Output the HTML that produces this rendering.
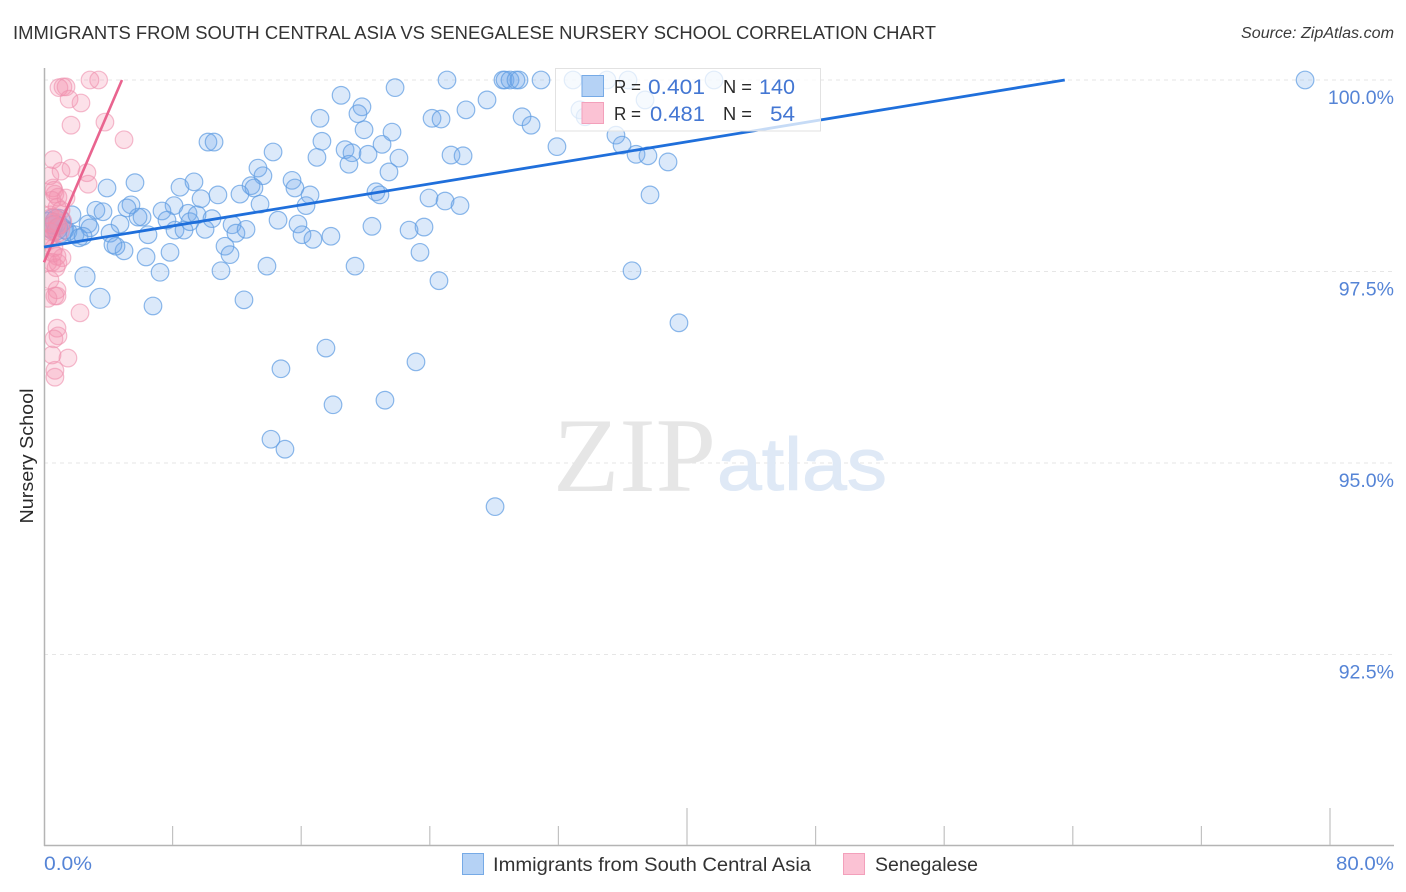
<!DOCTYPE html>
<html lang="en">
<head>
<meta charset="utf-8">
<title>Immigrants from South Central Asia vs Senegalese Nursery School Correlation Chart</title>
<style>
html,body{margin:0;padding:0;background:#fff;width:1406px;height:892px;overflow:hidden}
svg{display:block;font-family:"Liberation Sans",sans-serif}
</style>
</head>
<body>
<svg id="chart" xmlns="http://www.w3.org/2000/svg" width="1406" height="892" viewBox="0 0 1406 892">
  <text x="13" y="39" font-size="18" fill="#333" textLength="923" lengthAdjust="spacingAndGlyphs">IMMIGRANTS FROM SOUTH CENTRAL ASIA VS SENEGALESE NURSERY SCHOOL CORRELATION CHART</text>
  <text x="1241" y="38" font-size="15.5" font-style="italic" fill="#3a3a3a" textLength="153" lengthAdjust="spacingAndGlyphs">Source: ZipAtlas.com</text>
  <g id="grid"></g>
  <g>
    <text x="553" y="491" font-family="'Liberation Serif',serif" font-size="106" fill="#e6e6e6" textLength="163" lengthAdjust="spacingAndGlyphs">ZIP</text>
    <text x="717" y="490" font-size="74" fill="#dfe9f6" stroke="#dfe9f6" stroke-width="1" textLength="170" lengthAdjust="spacingAndGlyphs">atlas</text>
  </g>
  <g id="axes"></g>
  <defs><clipPath id="plot-clip"><rect x="45" y="60" width="1349" height="786"></rect></clipPath></defs>
  <g id="blue-points" clip-path="url(#plot-clip)"></g>
  <g id="pink-points" clip-path="url(#plot-clip)"></g>
  <g id="trends"></g>
  <text transform="translate(33,456) rotate(-90)" font-size="18" fill="#2a2a2a" text-anchor="middle" textLength="135" lengthAdjust="spacingAndGlyphs">Nursery School</text>
  <g>
    <rect x="555.5" y="68.5" width="265" height="62.5" fill="#fff" fill-opacity="0.75" stroke="#e2e2e2"></rect>
    <rect x="582" y="75.5" width="21.5" height="21" fill="#b5d2f5" stroke="#76aae6"></rect>
    <rect x="582" y="102.5" width="21.5" height="21" fill="#fbc2d4" stroke="#f3a0bb"></rect>
    <text x="614" y="93" font-size="18" fill="#2a2a2a" textLength="27" lengthAdjust="spacingAndGlyphs">R =</text>
    <text x="648" y="94" font-size="21" fill="#4477d3" textLength="57" lengthAdjust="spacingAndGlyphs">0.401</text>
    <text x="723" y="93" font-size="18" fill="#2a2a2a" textLength="29" lengthAdjust="spacingAndGlyphs">N =</text>
    <text x="759" y="94" font-size="21" fill="#4477d3" textLength="36" lengthAdjust="spacingAndGlyphs">140</text>
    <text x="614" y="120" font-size="18" fill="#2a2a2a" textLength="27" lengthAdjust="spacingAndGlyphs">R =</text>
    <text x="650" y="121" font-size="21" fill="#4477d3" textLength="55" lengthAdjust="spacingAndGlyphs">0.481</text>
    <text x="723" y="120" font-size="18" fill="#2a2a2a" textLength="29" lengthAdjust="spacingAndGlyphs">N =</text>
    <text x="770" y="121" font-size="21" fill="#4477d3" textLength="25" lengthAdjust="spacingAndGlyphs">54</text>
  </g>
  <g>
    <rect x="462.5" y="853.5" width="21" height="21" fill="#b5d2f5" stroke="#76aae6"></rect>
    <text x="493" y="871" font-size="19" fill="#333" textLength="318" lengthAdjust="spacingAndGlyphs">Immigrants from South Central Asia</text>
    <rect x="843.5" y="853.5" width="21" height="21" fill="#fbc2d4" stroke="#f3a0bb"></rect>
    <text x="875" y="871" font-size="19" fill="#333" textLength="103" lengthAdjust="spacingAndGlyphs">Senegalese</text>
  </g>
</svg>
<script>
var yTickValues = [100, 97.5, 95, 92.5];
var yTickLabels = ["100.0%", "97.5%", "95.0%", "92.5%"];
var xEdgeLabels = ["0.0%", "80.0%"];
var xTickValues = [0, 8, 16, 24, 32, 40, 48, 56, 64, 72, 80];

var blueX = [25.07,28.55,28.68,28.99,29.36,29.55,30.92,32.91,35.02,36.33,41.68,78.45,
18.48,21.84,17.17,19.78,19.53,27.56,26.25,24.14,24.70,29.74,30.30,33.34,33.66,37.39,
19.91,21.65,17.29,10.20,10.58,14.25,16.98,18.73,19.16,20.16,18.97,21.03,22.08,21.46,
25.32,26.07,31.91,35.58,35.96,36.83,37.57,38.82,13.31,13.62,15.43,15.61,16.55,16.30,
12.88,13.06,12.19,10.82,8.46,9.33,9.77,5.66,3.92,5.41,5.16,3.23,3.67,1.74,2.74,2.86,
13.44,20.65,20.90,23.95,24.95,25.88,37.70,8.09,7.34,6.10,5.85,4.73,4.11,6.47,7.65,
8.15,8.71,8.96,9.08,9.52,10.02,10.45,11.70,11.94,12.57,14.56,15.80,16.05,16.73,17.85,
20.40,22.71,23.64,23.39,11.26,11.57,7.84,6.35,4.98,4.48,4.29,13.87,19.35,11.01,7.22,
2.55,3.48,6.78,12.44,24.57,36.58,39.50,17.54,23.14,14.74,17.98,21.21,14.12,14.99,28.06,
0.37,0.62,0.87,1.00,0.68,1.31,1.49,1.93,2.18,2.43];
var blueY = [100,100,100,100,100,100,100,100,100,100,100,100,
99.80,99.90,99.50,99.65,99.56,99.74,99.61,99.50,99.49,99.52,99.41,99.61,99.52,99.74,
99.35,99.32,99.20,99.19,99.19,99.06,98.99,99.09,99.05,99.03,98.90,99.16,98.98,98.80,
99.02,99.01,99.13,99.28,99.15,99.03,99.01,98.93,98.85,98.75,98.69,98.59,98.50,98.36,
98.62,98.59,98.51,98.50,98.60,98.67,98.45,98.66,98.59,98.37,98.33,98.30,98.28,98.24,98.12,98.07,
98.38,98.54,98.50,98.46,98.42,98.36,98.50,98.36,98.29,98.21,98.21,98.12,98.00,97.98,98.17,
98.04,98.04,98.26,98.15,98.24,98.05,98.19,98.11,98.00,98.05,98.17,98.12,97.98,97.92,97.96,
98.09,98.04,98.08,97.75,97.83,97.72,97.75,97.69,97.77,97.83,97.85,97.57,97.57,97.51,97.49,
97.43,97.15,97.05,97.13,97.38,97.51,96.83,96.50,96.32,96.23,95.76,95.82,95.31,95.18,94.43,
98.11,98.15,98.15,98.04,98.07,98.04,98.02,97.98,97.94,97.96];

var pinkX = [2.86,3.40,0.93,1.18,1.37,1.56,2.30,1.68,3.79,4.98,0.56,1.06,1.68,2.67,2.74,0.37,0.56,0.62,
0.68,0.87,1.37,0.50,0.81,1.06,0.37,0.50,0.68,0.87,0.37,0.62,1.00,0.25,0.37,0.62,0.81,0.50,0.25,0.87,
0.37,0.81,0.81,0.68,0.25,2.24,0.81,0.87,0.62,1.49,0.50,0.68,0.68,0.56,0.75,1.12];
var pinkY = [100,100,99.90,99.91,99.91,99.75,99.70,99.41,99.45,99.22,98.96,98.81,98.85,98.79,98.64,98.75,98.59,98.56,
98.51,98.47,98.46,98.43,98.34,98.30,98.24,98.17,98.11,98.04,98.02,98.07,98.15,97.91,97.94,97.81,97.70,97.62,97.62,97.61,
97.39,97.26,97.18,97.18,97.15,96.96,96.76,96.66,96.62,96.37,96.41,96.21,96.12,97.74,97.55,97.68];

var blueTrendX = [0, 63.5];
var blueTrendY = [97.82, 100];
var pinkTrendX = [0, 4.85];
var pinkTrendY = [97.62, 100];

var NS = "http://www.w3.org/2000/svg";
function sx(v) { return 44 + v * 16.075; }
function sy(v) { return 80 + (100 - v) * 76.6; }
function make(tag, attrs, parent) {
  var el = document.createElementNS(NS, tag);
  for (var k in attrs) el.setAttribute(k, attrs[k]);
  parent.appendChild(el);
  return el;
}

var grid = document.getElementById("grid");
var axes = document.getElementById("axes");

yTickValues.forEach(function (v, i) {
  var line = make("line", {x1: 44, x2: 1393, y1: sy(v), y2: sy(v), stroke: "#e6e6e6", "stroke-dasharray": "4 4"}, grid);
  
  
  var label = make("text", {x: 1394, y: sy(v) + 24, "font-size": 19.5, fill: "#5584d6", "text-anchor": "end"}, axes);
  
  
  label.textContent = yTickLabels[i];
});

var yAxis = make("line", {x1: 44.5, x2: 44.5, y1: 68, y2: 846, stroke: "#b4b4b4", "stroke-width": 1.5}, axes);


var xAxis = make("line", {x1: 44, x2: 1394, y1: 845.5, y2: 845.5, stroke: "#b4b4b4", "stroke-width": 1.5}, axes);



xTickValues.forEach(function (v, i) {
  if (i === 0) return;
  var isLong = (v === 40 || v === 80);
  var tick = make("line", {x1: sx(v), x2: sx(v), y1: isLong ? 808 : 826, y2: 845, stroke: "#c2c2c2", "stroke-width": 1.2}, axes);
  
  
});

var xLabelLeft = make("text", {x: 44, y: 870, "font-size": 19.5, fill: "#5584d6", textLength: 48, lengthAdjust: "spacingAndGlyphs"}, axes);


xLabelLeft.textContent = xEdgeLabels[0];
var xLabelRight = make("text", {x: 1336, y: 870, "font-size": 19.5, fill: "#5584d6", textLength: 58, lengthAdjust: "spacingAndGlyphs"}, axes);


xLabelRight.textContent = xEdgeLabels[1];

function inCore(x, y) { return x > 0.3 && x < 1.1 && y > 98.03 && y < 98.18; }

var blueGroup = document.getElementById("blue-points");
blueX.forEach(function (v, i) {
  var y = blueY[i];
  var big = v < 4 && y < 97.5;
  var r = inCore(v, y) ? 12.5 : (big ? 10 : 8.8);
  var c = make("circle", {cx: sx(v), cy: sy(y), r: r, fill: "#6ea6ea", "fill-opacity": 0.25, stroke: "#5f9ce2", "stroke-opacity": 0.72, "stroke-width": 1.2}, blueGroup);
  
  
});

var pinkGroup = document.getElementById("pink-points");
pinkX.forEach(function (v, i) {
  var y = pinkY[i];
  var r = inCore(v, y) ? 11.5 : 8.8;
  var c = make("circle", {cx: sx(v), cy: sy(y), r: r, fill: "#f58fac", "fill-opacity": 0.27, stroke: "#ee8fae", "stroke-opacity": 0.6, "stroke-width": 1.2}, pinkGroup);
  
  
});

var trends = document.getElementById("trends");
var pinkLine = make("line", {x1: sx(pinkTrendX[0]), y1: sy(pinkTrendY[0]), x2: sx(pinkTrendX[1]), y2: sy(pinkTrendY[1]), stroke: "#e9648f", "stroke-width": 2.6}, trends);


var blueLine = make("line", {x1: sx(blueTrendX[0]), y1: sy(blueTrendY[0]), x2: sx(blueTrendX[1]), y2: sy(blueTrendY[1]), stroke: "#1f6fdb", "stroke-width": 2.8}, trends);


</script>
</body>
</html>
